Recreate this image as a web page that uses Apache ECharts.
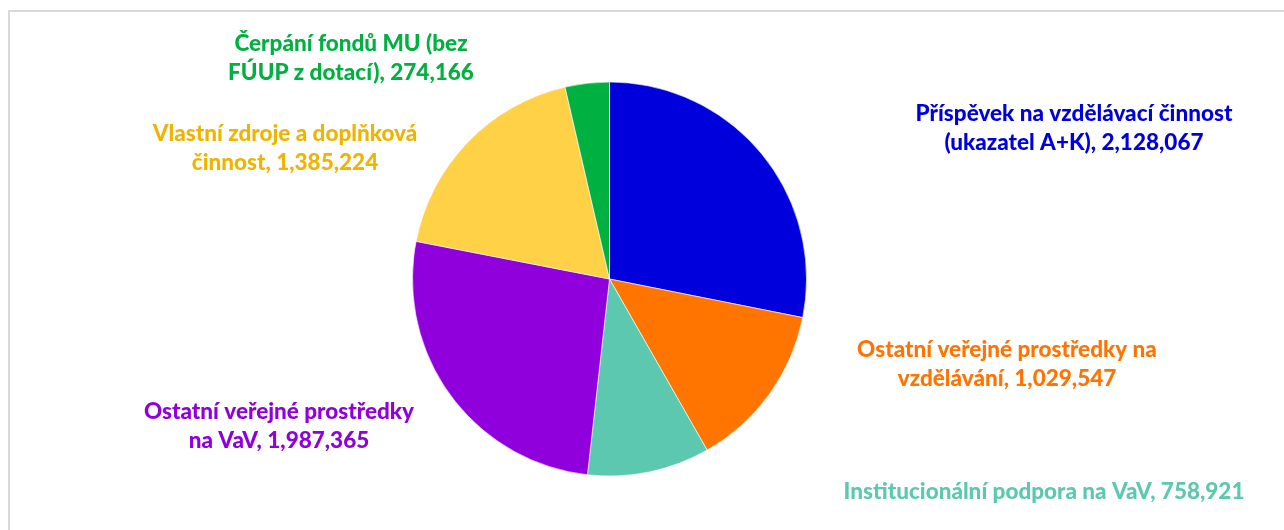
<!DOCTYPE html>
<html>
<head>
<meta charset="utf-8">
<script src="https://cdn.jsdelivr.net/npm/echarts@6/dist/echarts.min.js"></script>
<style>
  html, body { margin: 0; padding: 0; background: #fff; }
  #chart { width: 1284px; height: 530px; }
</style>
</head>
<body>
<div id="chart"></div>
<script>
// categories and values (clockwise from 12 o'clock)
const names = [
  "Příspěvek na vzdělávací činnost\n(ukazatel A+K)",
  "Ostatní veřejné prostředky na\nvzdělávání",
  "Institucionální podpora na VaV",
  "Ostatní veřejné prostředky\nna VaV",
  "Vlastní zdroje a doplňková\nčinnost",
  "Čerpání fondů MU (bez\nFÚUP z dotací)"
];
const values = [2128067, 1029547, 758921, 1987365, 1385224, 274166];

const sliceColors = ["#0000dc", "#ff7500", "#5bc8af", "#9000dc", "#ffd147", "#00b040"];
const labelColors = ["#0000dc", "#ff7300", "#5bc8af", "#9000dc", "#f0b400", "#00b040"];
// label centres (x, y) in pixels
const labelPos = [[1074, 128], [1007, 364], [1044, 492], [279, 426], [285, 148], [351, 58]];

function fmt(v) {
  return v.toString().replace(/\B(?=(\d{3})+(?!\d))/g, ",");
}

const chart = echarts.init(document.getElementById("chart"));
chart.setOption({
  animation: false,
  graphic: [{
    type: "rect",
    shape: { x: 9, y: 11, width: 1400, height: 600 },
    style: { fill: "none", stroke: "#d9d9d9", lineWidth: 2 },
    silent: true
  }],
  series: [{
    type: "pie",
    center: [609.5, 279],
    radius: 197,
    startAngle: 90,
    clockwise: true,
    itemStyle: { borderColor: "#fff", borderWidth: 0.6 },
    label: {
      show: true,
      position: "outside",
      fontFamily: "Lato",
      fontWeight: 900,
      fontSize: 22.5,
      lineHeight: 29,
      align: "center",
      formatter: p => p.name + ", " + fmt(p.value)
    },
    labelLine: { show: false },
    labelLayout: p => ({
      x: labelPos[p.dataIndex][0],
      y: labelPos[p.dataIndex][1],
      align: "center",
      verticalAlign: "middle"
    }),
    data: values.map((v, i) => ({
      name: names[i],
      value: v,
      itemStyle: { color: sliceColors[i] },
      label: { color: labelColors[i] }
    }))
  }]
});
</script>
</body>
</html>
